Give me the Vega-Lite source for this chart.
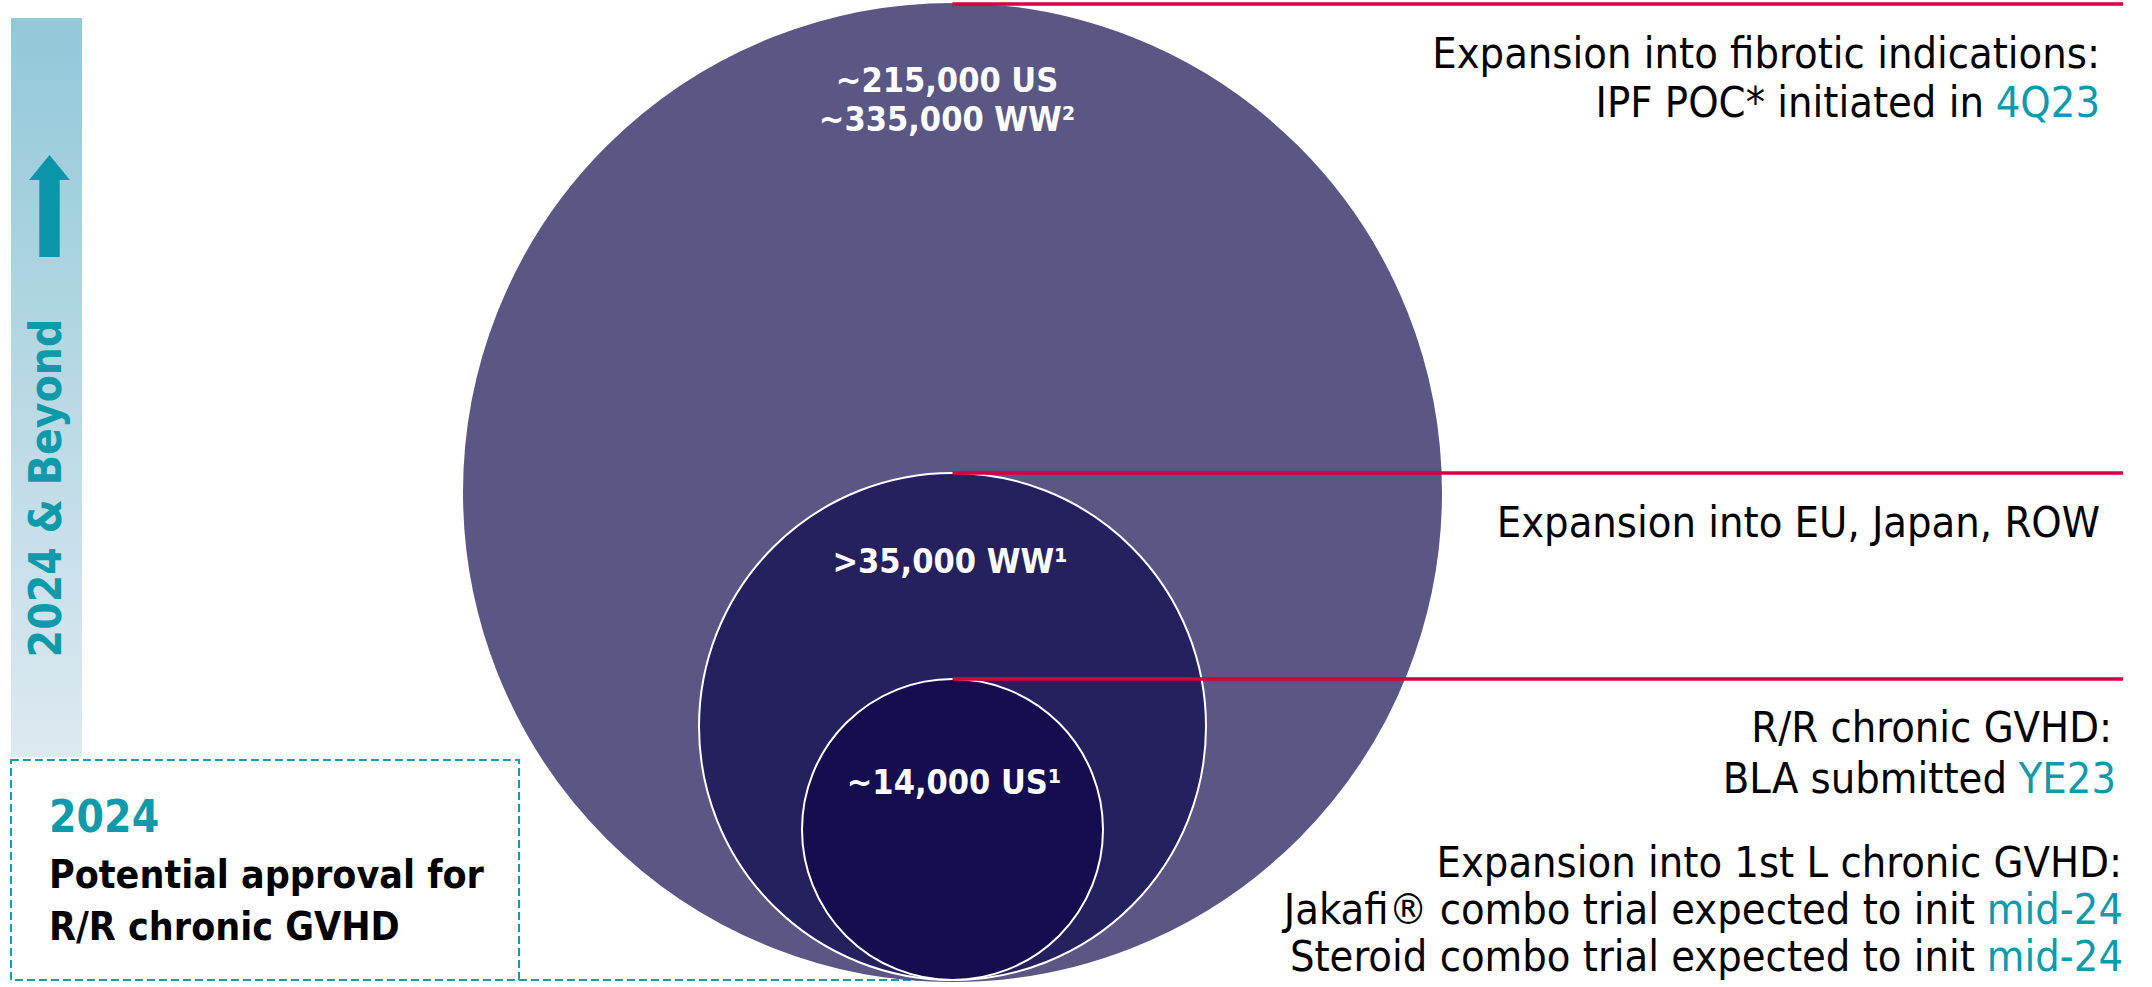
{
  "$schema": "https://vega.github.io/schema/vega-lite/v6.json",
  "width": 2152,
  "height": 987,
  "autosize": {"type": "fit", "contains": "padding"},
  "padding": 0,
  "background": "white",
  "config": {"view": {"stroke": null}, "font": "DejaVu Sans Condensed, DejaVu Sans"},
  "datasets": {
    "timeline": [{"part": "bar", "x": 11, "x2": 82, "y": 18, "y2": 757}],
    "arrow": [{"part": "arrow", "x": 49.5, "y": 206}],
    "milestone": [{"part": "box", "x": 11, "x2": 519, "y": 760, "y2": 980}],
    "connector": [{"part": "connector", "x": 519, "x2": 950, "y": 980}],
    "circles": [
      {"tier": "Fibrotic indications", "population": 335000, "x": 952.5, "y": 492.5},
      {"tier": "Worldwide R/R cGVHD", "population": 35000, "x": 952.5, "y": 726.5},
      {"tier": "US R/R cGVHD", "population": 14000, "x": 952.5, "y": 829.5}
    ],
    "leaders": [
      {"tier": "Fibrotic indications", "x": 952.5, "x2": 2123, "y": 4},
      {"tier": "Worldwide R/R cGVHD", "x": 952.5, "x2": 2123, "y": 473},
      {"tier": "US R/R cGVHD", "x": 952.5, "x2": 2123, "y": 679}
    ],
    "texts": [
      {"group": "right", "x": 2100, "y": 55, "text": "Expansion into fibrotic indications:"},
      {"group": "right", "x": 1984, "y": 104, "text": "IPF POC* initiated in"},
      {"group": "rightTeal", "x": 2100, "y": 104, "text": "4Q23"},
      {"group": "right", "x": 2100, "y": 524, "text": "Expansion into EU, Japan, ROW"},
      {"group": "right", "x": 2112, "y": 729, "text": "R/R chronic GVHD:"},
      {"group": "right", "x": 2007, "y": 780, "text": "BLA submitted"},
      {"group": "rightTeal", "x": 2116, "y": 780, "text": "YE23"},
      {"group": "right", "x": 2122, "y": 864, "text": "Expansion into 1st L chronic GVHD:"},
      {"group": "right", "x": 1975, "y": 911, "text": "Jakafi® combo trial expected to init"},
      {"group": "rightTeal", "x": 2123, "y": 911, "text": "mid-24"},
      {"group": "right", "x": 1975, "y": 958, "text": "Steroid combo trial expected to init"},
      {"group": "rightTeal", "x": 2123, "y": 958, "text": "mid-24"},
      {"group": "bubble", "x": 947, "y": 82, "text": "~215,000 US"},
      {"group": "bubble", "x": 947, "y": 121, "text": "~335,000 WW²"},
      {"group": "bubble", "x": 950, "y": 563, "text": ">35,000 WW¹"},
      {"group": "bubble", "x": 954, "y": 784, "text": "~14,000 US¹"},
      {"group": "year", "x": 49, "y": 819, "text": "2024"},
      {"group": "box", "x": 49, "y": 876, "text": "Potential approval for"},
      {"group": "box", "x": 49, "y": 928, "text": "R/R chronic GVHD"},
      {"group": "vertical", "x": 48, "y": 488, "text": "2024 & Beyond"}
    ]
  },
  "layer": [
    {
      "data": {"name": "timeline"},
      "mark": {
        "type": "rect",
        "fill": {"gradient": "linear", "x1": 0, "y1": 0, "x2": 0, "y2": 1,
          "stops": [{"offset": 0, "color": "#92c8d8"}, {"offset": 1, "color": "#dde9f1"}]}
      },
      "encoding": {
        "x": {"field": "x", "type": "quantitative", "scale": {"domain": [0, 2152], "nice": false, "zero": false}, "axis": null},
        "x2": {"field": "x2"},
        "y": {"field": "y", "type": "quantitative", "scale": {"domain": [0, 987], "reverse": true, "nice": false, "zero": false}, "axis": null},
        "y2": {"field": "y2"}
      }
    },
    {
      "data": {"name": "arrow"},
      "mark": {"type": "point", "filled": true, "opacity": 1, "color": "#0896a8",
        "shape": "M0,-1L0.4,-0.51L0.2,-0.51L0.2,1L-0.2,1L-0.2,-0.51L-0.4,-0.51Z", "size": 10404},
      "encoding": {
        "x": {"field": "x", "type": "quantitative"},
        "y": {"field": "y", "type": "quantitative"}
      }
    },
    {
      "data": {"name": "milestone"},
      "mark": {"type": "rect", "fill": null, "fillOpacity": 0, "stroke": "#1a9aae", "strokeWidth": 2, "strokeDash": [8, 4]},
      "encoding": {
        "x": {"field": "x", "type": "quantitative"},
        "x2": {"field": "x2"},
        "y": {"field": "y", "type": "quantitative"},
        "y2": {"field": "y2"}
      }
    },
    {
      "data": {"name": "connector"},
      "mark": {"type": "rule", "stroke": "#1a9aae", "strokeWidth": 2, "strokeDash": [8, 4]},
      "encoding": {
        "x": {"field": "x", "type": "quantitative"},
        "x2": {"field": "x2"},
        "y": {"field": "y", "type": "quantitative"}
      }
    },
    {
      "data": {"name": "circles"},
      "mark": {"type": "point", "shape": "circle", "filled": true, "opacity": 1, "fillOpacity": 1, "strokeOpacity": 1, "strokeWidth": 2},
      "encoding": {
        "x": {"field": "x", "type": "quantitative"},
        "y": {"field": "y", "type": "quantitative"},
        "size": {"field": "population", "type": "quantitative",
          "scale": {"type": "threshold", "domain": [20000, 100000], "range": [90601, 257049, 954529]}, "legend": null},
        "color": {"field": "tier", "type": "nominal",
          "scale": {"domain": ["Fibrotic indications", "Worldwide R/R cGVHD", "US R/R cGVHD"], "range": ["#5b5785", "#25205e", "#140e4e"]}, "legend": null},
        "stroke": {"field": "tier", "type": "nominal",
          "scale": {"domain": ["Fibrotic indications", "Worldwide R/R cGVHD", "US R/R cGVHD"], "range": ["#5b5785", "#ffffff", "#ffffff"]}, "legend": null},
        "order": {"field": "population", "type": "quantitative", "sort": "descending"}
      }
    },
    {
      "data": {"name": "leaders"},
      "mark": {"type": "rule", "stroke": "#d5003d", "strokeWidth": 3.5},
      "encoding": {
        "x": {"field": "x", "type": "quantitative"},
        "x2": {"field": "x2"},
        "y": {"field": "y", "type": "quantitative"}
      }
    },
    {
      "data": {"name": "texts"},
      "transform": [{"filter": "datum.group === 'right'"}],
      "mark": {"type": "text", "align": "right", "baseline": "middle", "fontSize": 43, "color": "#000000"},
      "encoding": {
        "x": {"field": "x", "type": "quantitative"},
        "y": {"field": "y", "type": "quantitative"},
        "text": {"field": "text"}
      }
    },
    {
      "data": {"name": "texts"},
      "transform": [{"filter": "datum.group === 'rightTeal'"}],
      "mark": {"type": "text", "align": "right", "baseline": "middle", "fontSize": 43, "color": "#0e9aaa"},
      "encoding": {
        "x": {"field": "x", "type": "quantitative"},
        "y": {"field": "y", "type": "quantitative"},
        "text": {"field": "text"}
      }
    },
    {
      "data": {"name": "texts"},
      "transform": [{"filter": "datum.group === 'bubble'"}],
      "mark": {"type": "text", "align": "center", "baseline": "middle", "fontSize": 34, "fontWeight": "bold", "color": "#ffffff"},
      "encoding": {
        "x": {"field": "x", "type": "quantitative"},
        "y": {"field": "y", "type": "quantitative"},
        "text": {"field": "text"}
      }
    },
    {
      "data": {"name": "texts"},
      "transform": [{"filter": "datum.group === 'year'"}],
      "mark": {"type": "text", "align": "left", "baseline": "middle", "fontSize": 44, "fontWeight": "bold", "color": "#0e9aaa"},
      "encoding": {
        "x": {"field": "x", "type": "quantitative"},
        "y": {"field": "y", "type": "quantitative"},
        "text": {"field": "text"}
      }
    },
    {
      "data": {"name": "texts"},
      "transform": [{"filter": "datum.group === 'box'"}],
      "mark": {"type": "text", "align": "left", "baseline": "middle", "fontSize": 39, "fontWeight": "bold", "color": "#000000"},
      "encoding": {
        "x": {"field": "x", "type": "quantitative"},
        "y": {"field": "y", "type": "quantitative"},
        "text": {"field": "text"}
      }
    },
    {
      "data": {"name": "texts"},
      "transform": [{"filter": "datum.group === 'vertical'"}],
      "mark": {"type": "text", "align": "center", "baseline": "middle", "angle": 270, "fontSize": 44, "fontWeight": "bold", "color": "#0e9aaa"},
      "encoding": {
        "x": {"field": "x", "type": "quantitative"},
        "y": {"field": "y", "type": "quantitative"},
        "text": {"field": "text"}
      }
    }
  ]
}
